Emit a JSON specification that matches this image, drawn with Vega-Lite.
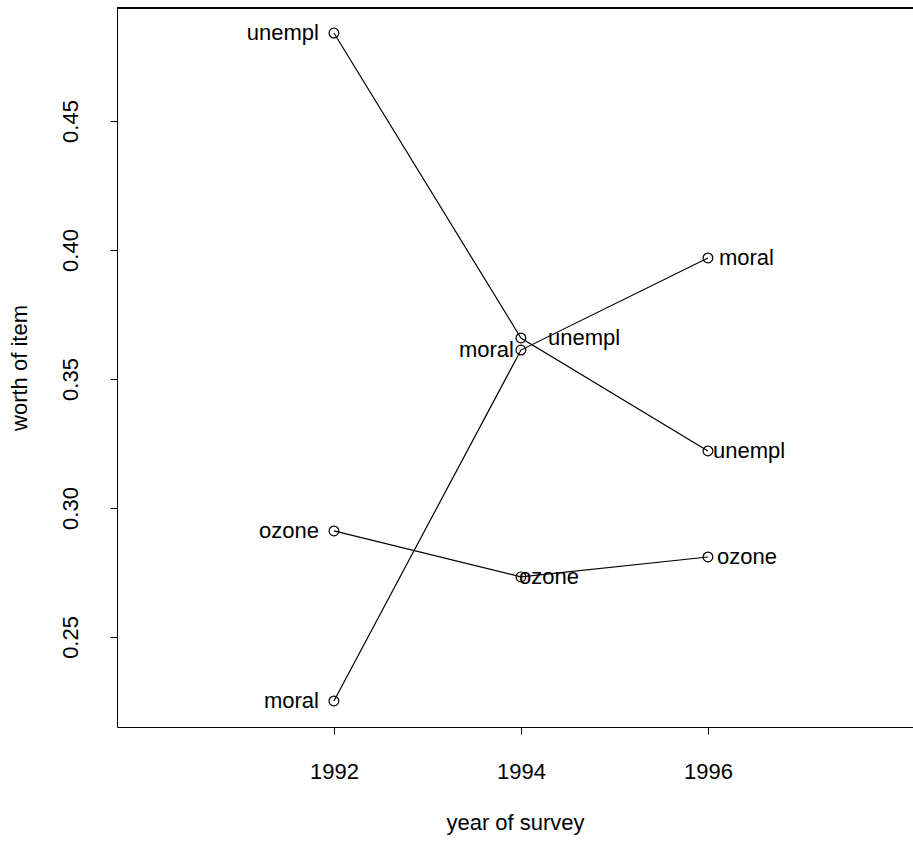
{
  "$schema": "https://vega.github.io/schema/vega-lite/v6.json",
  "autosize": "none",
  "padding": {"left": 117, "top": 8, "right": 0, "bottom": 116},
  "width": 796,
  "height": 719,
  "background": "white",
  "config": {
    "font": "Liberation Sans",
    "view": {"stroke": null},
    "axis": {
      "domainColor": "black", "tickColor": "black", "labelColor": "black", "titleColor": "black",
      "labelFontSize": 22, "titleFontSize": 22, "titleFontWeight": "normal",
      "tickSize": 7, "grid": false, "domainWidth": 1, "tickWidth": 1
    }
  },
  "data": {
    "values": [
      {"item": "moral", "year": 1992, "worth": 0.2252},
      {"item": "moral", "year": 1994, "worth": 0.3612},
      {"item": "moral", "year": 1996, "worth": 0.3969},
      {"item": "unempl", "year": 1992, "worth": 0.4841},
      {"item": "unempl", "year": 1994, "worth": 0.3659},
      {"item": "unempl", "year": 1996, "worth": 0.3221},
      {"item": "ozone", "year": 1992, "worth": 0.2911},
      {"item": "ozone", "year": 1994, "worth": 0.2733},
      {"item": "ozone", "year": 1996, "worth": 0.2810}
    ]
  },
  "encoding": {
    "x": {"field": "year", "type": "quantitative",
      "scale": {"domain": [1989.68, 1998.193], "nice": false, "zero": false},
      "axis": {"values": [1992, 1994, 1996], "format": "d", "title": "year of survey", "labelPadding": 27, "titlePadding": 30}},
    "y": {"field": "worth", "type": "quantitative",
      "scale": {"domain": [0.2151, 0.4938], "nice": false, "zero": false},
      "axis": {"values": [0.25, 0.30, 0.35, 0.40, 0.45], "format": ".2f", "title": "worth of item", "labelAngle": -90, "labelAlign": "center", "labelBaseline": "bottom", "labelPadding": 28, "titlePadding": 28}}
  },
  "layer": [
    {"mark": {"type": "rule", "color": "black", "strokeWidth": 1}, "encoding": {"x": {"value": 0}, "x2": {"value": 796}, "y": {"datum": 0.4938}}},
    {"mark": {"type": "line", "color": "black", "strokeWidth": 1.2}, "encoding": {"detail": {"field": "item"}}},
    {"mark": {"type": "point", "shape": "circle", "filled": false, "color": "black", "size": 95, "strokeWidth": 1.2, "opacity": 1}},
    {"transform": [{"filter": "datum.year == 1992"}],
     "mark": {"type": "text", "align": "right", "baseline": "middle", "dx": -15, "fontSize": 22, "color": "black"},
     "encoding": {"text": {"field": "item"}}},
    {"transform": [{"filter": "datum.year == 1994 && datum.item == 'moral'"}],
     "mark": {"type": "text", "align": "right", "baseline": "middle", "dx": -7, "fontSize": 22, "color": "black"},
     "encoding": {"text": {"field": "item"}}},
    {"transform": [{"filter": "datum.year == 1994 && datum.item == 'unempl'"}],
     "mark": {"type": "text", "align": "left", "baseline": "middle", "dx": 27, "fontSize": 22, "color": "black"},
     "encoding": {"text": {"field": "item"}}},
    {"transform": [{"filter": "datum.year == 1994 && datum.item == 'ozone'"}],
     "mark": {"type": "text", "align": "left", "baseline": "middle", "dx": -2, "fontSize": 22, "color": "black"},
     "encoding": {"text": {"field": "item"}}},
    {"transform": [{"filter": "datum.year == 1996 && datum.item == 'moral'"}],
     "mark": {"type": "text", "align": "left", "baseline": "middle", "dx": 11, "fontSize": 22, "color": "black"},
     "encoding": {"text": {"field": "item"}}},
    {"transform": [{"filter": "datum.year == 1996 && datum.item == 'ozone'"}],
     "mark": {"type": "text", "align": "left", "baseline": "middle", "dx": 9, "fontSize": 22, "color": "black"},
     "encoding": {"text": {"field": "item"}}},
    {"transform": [{"filter": "datum.year == 1996 && datum.item == 'unempl'"}],
     "mark": {"type": "text", "align": "left", "baseline": "middle", "dx": 5, "fontSize": 22, "color": "black"},
     "encoding": {"text": {"field": "item"}}}
  ]
}
